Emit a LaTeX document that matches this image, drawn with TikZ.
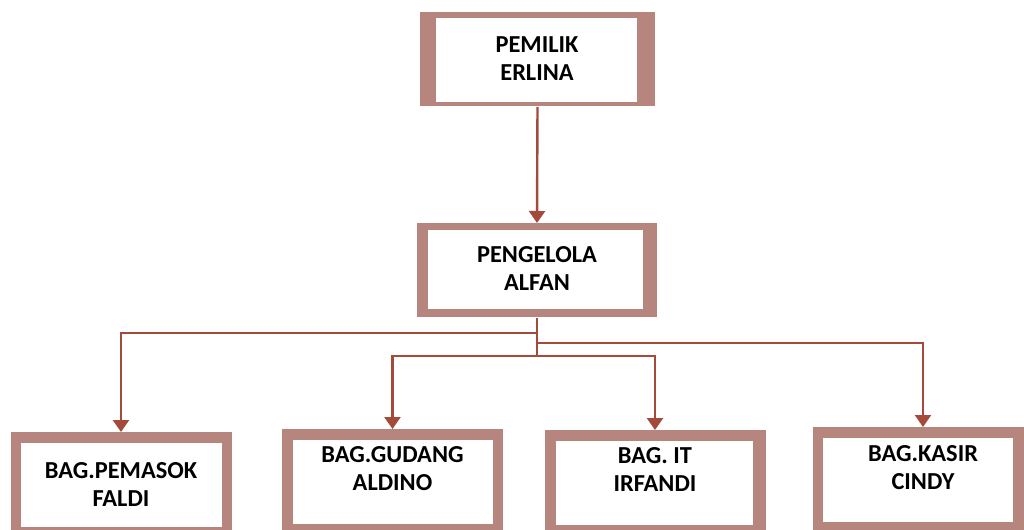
\documentclass[tikz,border=0pt]{standalone}
\usepackage{fontspec}
\setmainfont{Carlito}
\usetikzlibrary{arrows.meta}
\definecolor{framebrown}{RGB}{182,133,126}
\definecolor{linkred}{RGB}{163,74,58}
\tikzset{
  frame/.style={fill=framebrown, inner sep=0pt, anchor=north},
  pane/.style={fill=white, inner sep=0pt, anchor=north},
  caption/.style={align=center, inner sep=0pt, font=\bfseries\fontsize{12.2}{14}\selectfont},
  link/.style={draw=linkred, line width=1.2pt},
  arrow/.style={link, -{Triangle[width=8pt,length=6pt]}}
}

\begin{document}
\begin{tikzpicture}[x=0.5pt,y=-0.5pt]
            \clip (0,0) rectangle (1024,530);
            \fill[white] (0,0) rectangle (1024,530);
            % top boxes
            \node[frame, minimum width=117.5pt, minimum height=47pt] (pemilik) at (537.5,12) {};
            \node[pane, minimum width=100.5pt, minimum height=42pt] (pemilik-in) at (536.5,18) {};
            \node[caption] (pemilik-txt) at (537,59) {PEMILIK\\ERLINA};
            \node[frame, minimum width=120pt, minimum height=47pt] (pengelola) at (537,223) {};
            \node[pane, minimum width=107.5pt, minimum height=39.5pt] (pengelola-in) at (535.5,230) {};
            \node[caption] (pengelola-txt) at (537,268) {PENGELOLA\\ALFAN};
            % bottom boxes
            \foreach \name/\cx/\top/\ix/\iw/\ty/\txt in {
                pemasok/121/432/121.5/100.5/484/{BAG.PEMASOK\\FALDI},
                gudang/392.5/429/393/100/469/{BAG.GUDANG\\ALDINO},
                it/655/430/654.5/98.5/469.5/{BAG. IT\\IRFANDI},
                kasir/923/427/918/95/467.5/{BAG.KASIR\\CINDY}}{
                \node[frame, minimum width=110.5pt, minimum height=53pt] (\name) at (\cx,\top) {};
                \node[pane, minimum width=\iw pt, minimum height=42pt] (\name-in) at (\ix,\top+11) {};
                \node[caption] (\name-txt) at (\cx,\ty) {\txt};
            }
            % connectors
            \draw[arrow] (pemilik.south) -- (pengelola.north);
            \coordinate (split) at (537,356);
            \draw[link] (pengelola.south) -- (split);
            \draw[arrow] (pengelola.south |- 0,333) -| (pemasok.north);
            \draw[arrow] (pengelola.south |- 0,343) -| (kasir.north);
            \draw[arrow] (split) -| (gudang.north);
            \draw[arrow] (split) -| (it.north);
        \end{tikzpicture}
\end{document}
